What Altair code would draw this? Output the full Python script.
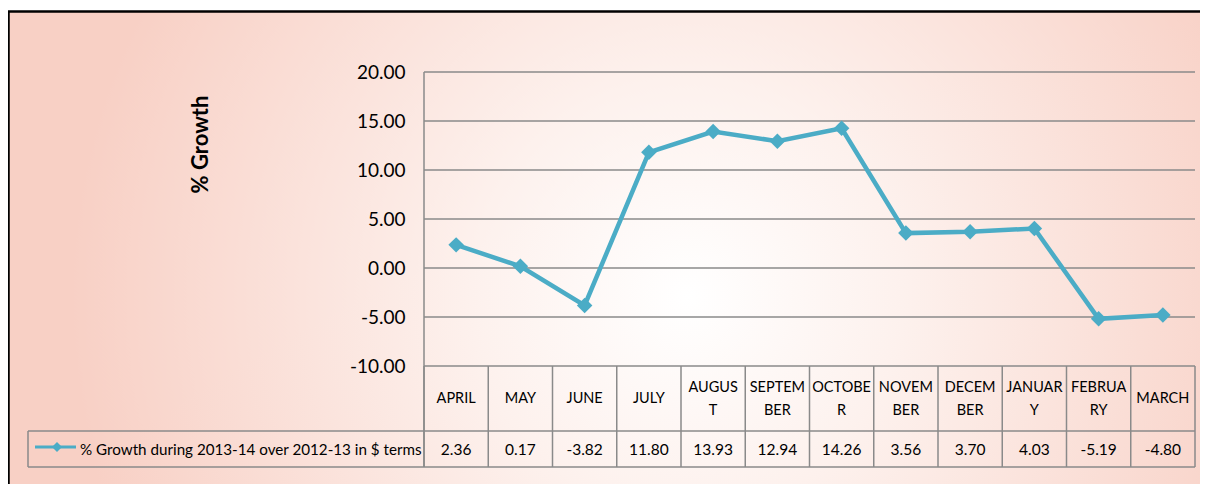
import altair as alt
import pandas as pd

# ---- data ----
months = ["APRIL", "MAY", "JUNE", "JULY", "AUGUST", "SEPTEMBER", "OCTOBER",
          "NOVEMBER", "DECEMBER", "JANUARY", "FEBRUARY", "MARCH"]
header_labels = ["APRIL", "MAY", "JUNE", "JULY", "AUGUS\nT", "SEPTEM\nBER", "OCTOBE\nR",
                 "NOVEM\nBER", "DECEM\nBER", "JANUAR\nY", "FEBRUA\nRY", "MARCH"]
growth = [2.36, 0.17, -3.82, 11.80, 13.93, 12.94, 14.26, 3.56, 3.70, 4.03, -5.19, -4.80]
y_ticks = [-10, -5, 0, 5, 10, 15, 20]
series_name = "% Growth during 2013-14 over 2012-13 in $ terms"
y_title = "% Growth"

df = pd.DataFrame({
    "month": months,
    "label": header_labels,
    "growth": growth,
    "growth_txt": [f"{v:.2f}" for v in growth],
})
grid_df = pd.DataFrame({"tick": y_ticks})
one = pd.DataFrame({"k": [0]})

# ---- layout (plot-area pixels) ----
W, H = 771, 294
ROW1 = 359      # bottom of header row
ROW2 = 395      # bottom of value row
LEG_X = -396    # left edge of legend cell
FONT = "Lato"
LINE_COLOR = "#4BACC6"
GRID = "#8a8a8a"
HDR_C = (H + ROW1) / 2 + 0.5
HDR_GAP = 11.5

yscale = alt.Scale(domain=[-10, 20], nice=False, zero=False)
yaxis = alt.Axis(values=y_ticks,
                 labelExpr="replace(format(datum.value, '.2f'), '\u2212', '-')",
                 labelFont=FONT, labelFontSize=19,
                 labelColor="black", labelPadding=19, ticks=False, domain=False,
                 grid=False, zindex=1, title=y_title, titleFont=FONT,
                 titleFontSize=22, titleFontWeight="bold", titleColor="black",
                 titleX=-224, titleY=72, titleAngle=270, titleAlign="center",
                 titleBaseline="middle")
xscale = alt.Scale(type="band", paddingInner=0, paddingOuter=0)
xenc = alt.X("month:N", sort=months, axis=None, scale=xscale)

gradient = {
    "gradient": "radial",
    "x1": 0.55, "y1": 0.52, "r1": 0,
    "x2": 0.55, "y2": 0.52, "r2": 0.5,
    "stops": [
        {"offset": 0, "color": "#ffffff"},
        {"offset": 0.35, "color": "#fdf1ed"},
        {"offset": 1, "color": "#f8d0c5"},
    ],
}

bg = alt.Chart(one).mark_rect(fill=gradient, stroke="black", strokeWidth=2.5).encode(
    x=alt.value(-415.5), x2=alt.value(820), y=alt.value(-60.5), y2=alt.value(460))

grid = alt.Chart(grid_df).mark_rule(color=GRID, strokeWidth=1.5).encode(
    y=alt.Y("tick:Q", scale=yscale, axis=yaxis),
    x=alt.value(0), x2=alt.value(W))

# table lines
col_lines = alt.Chart(df).mark_rule(color=GRID, strokeWidth=1.5).encode(
    x=alt.X("month:N", sort=months, axis=None, bandPosition=0, scale=xscale),
    y=alt.value(H), y2=alt.value(ROW2))
axis_line = alt.Chart(one).mark_rule(color=GRID, strokeWidth=1.5).encode(
    x=alt.value(0), y=alt.value(0), y2=alt.value(ROW2))
right_line = alt.Chart(one).mark_rule(color=GRID, strokeWidth=1.5).encode(
    x=alt.value(W), y=alt.value(H), y2=alt.value(ROW2))
row1_line = alt.Chart(one).mark_rule(color=GRID, strokeWidth=1.5).encode(
    x=alt.value(LEG_X), x2=alt.value(W), y=alt.value(ROW1))
row2_line = alt.Chart(one).mark_rule(color=GRID, strokeWidth=1.5).encode(
    x=alt.value(LEG_X), x2=alt.value(W), y=alt.value(ROW2))
leg_left = alt.Chart(one).mark_rule(color=GRID, strokeWidth=1.5).encode(
    x=alt.value(LEG_X), y=alt.value(ROW1), y2=alt.value(ROW2))

line = alt.Chart(df).mark_line(color=LINE_COLOR, strokeWidth=4.5).encode(
    x=xenc, y=alt.Y("growth:Q", scale=yscale, axis=yaxis))
pts = alt.Chart(df).mark_point(shape="diamond", filled=True, size=240,
                               color=LINE_COLOR, opacity=1).encode(
    x=xenc, y=alt.Y("growth:Q", scale=yscale, axis=yaxis))

header = alt.Chart(df).transform_calculate(
    ypos=f"indexof(datum.label, '\\n') >= 0 ? {HDR_C - HDR_GAP} : {HDR_C}"
).mark_text(font=FONT, fontSize=14.5, color="black",
            lineBreak="\n", lineHeight=23, baseline="middle",
            align="center").encode(
    x=xenc, y=alt.Y("ypos:Q", scale=None), text="label:N")
values = alt.Chart(df).mark_text(font=FONT, fontSize=15.5, color="black",
                                 baseline="middle", align="center").encode(
    x=xenc, y=alt.value((ROW1 + ROW2) / 2 + 0.5), text="growth_txt:N")

leg_line = alt.Chart(one).mark_rule(color=LINE_COLOR, strokeWidth=3).encode(
    x=alt.value(35 - 424), x2=alt.value(76 - 424), y=alt.value(447 - 72))
leg_pt = alt.Chart(one).mark_point(shape="diamond", filled=True, size=100,
                                   color=LINE_COLOR, opacity=1).encode(
    x=alt.value(57 - 424), y=alt.value(447 - 72))
leg_text = alt.Chart(one).mark_text(text=series_name, font=FONT, fontSize=15.2,
                                    color="black", align="left",
                                    baseline="middle").encode(
    x=alt.value(80 - 424), y=alt.value((ROW1 + ROW2) / 2 + 0.5))

chart = alt.layer(
    bg, grid, col_lines, axis_line, right_line, row1_line, row2_line, leg_left,
    line, pts, header, values, leg_line, leg_pt, leg_text
).properties(
    width=W, height=H,
    padding={"left": 416, "top": 64, "right": 5, "bottom": 118},
    autosize=alt.AutoSizeParams(type="none"),
).configure_view(stroke="transparent")

chart.save("out.html", embed_options={"renderer": "svg", "actions": False})
